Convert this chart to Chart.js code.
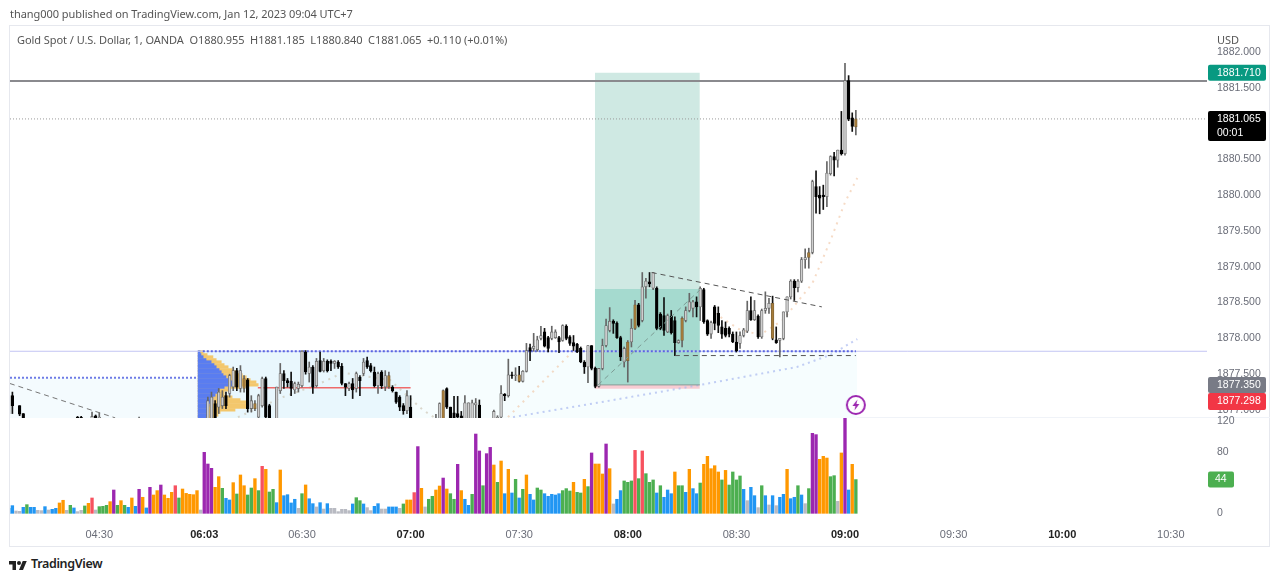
<!DOCTYPE html>
<html>
<head>
<meta charset="utf-8">
<title>XAUUSD</title>
<script src="https://cdn.jsdelivr.net/npm/chart.js@4/dist/chart.umd.js"></script>
<style>
  html, body { margin: 0; padding: 0; background: #fff; width: 1280px; height: 581px; overflow: hidden; }
  body { position: relative; font-family: "Noto Sans", sans-serif; color: #555; }
  canvas { position: absolute; left: 0; filter: blur(0.3px); }
  #priceChart { top: 0; }
  #volumeChart { top: 410px; }
  .frame { position: absolute; left: 9px; top: 25px; width: 1261px; height: 522px; border: 1px solid #e6e8ee; box-sizing: border-box; }
  .sep { position: absolute; left: 10px; top: 417px; width: 1260px; height: 1px; background: #f0f3f8; }
  .txt { position: absolute; white-space: pre; font-size: 11px; line-height: 14px; }
  #published { left: 10px; top: 7px; letter-spacing: -0.05px; }
  #legend { left: 17px; top: 33px; letter-spacing: -0.06px; }
  #currency { left: 1217px; top: 33px; }
  #brand { left: 31px; top: 556px; font-size: 12.5px; line-height: 16px; font-weight: 600; color: #222; letter-spacing: -0.35px; }
  #logo { position: absolute; left: 9px; top: 559px; }
</style>
</head>
<body>
<div class="frame"></div>
<div class="sep"></div>
<canvas id="priceChart" width="1280" height="424"></canvas>
<canvas id="volumeChart" width="1280" height="137"></canvas>
<div class="txt" id="published">thang000 published on TradingView.com, Jan 12, 2023 09:04 UTC+7</div>
<div class="txt" id="legend">Gold Spot / U.S. Dollar, 1, OANDA  O1880.955  H1881.185  L1880.840  C1881.065  +0.110 (+0.01%)</div>
<div class="txt" id="currency">USD</div>
<svg id="logo" width="18" height="11" viewBox="0 0 36 22"><path fill="#222" d="M14 22H7V11H0V4h14v18zM28 22h-8l7.5-18h8L28 22z"/><circle fill="#222" cx="20" cy="8" r="4"/></svg>
<div class="txt" id="brand">TradingView</div>

<script>
// time axis (bar index -> label)
const timeTickBars = [24, 53, 80, 110, 140, 170, 200, 230, 260, 290, 320];
const timeTickLabels = ['04:30', '06:03', '06:30', '07:00', '07:30', '08:00', '08:30', '09:00', '09:30', '10:00', '10:30'];
const boldTimes = ['06:03', '07:00', '08:00', '09:00', '10:00'];

const priceTicks = [1877, 1877.5, 1878, 1878.5, 1879, 1879.5, 1880, 1880.5, 1881, 1881.5, 1882];
const volumeTicks = [0, 80, 120];

// volume, first value is bar -1
const volumes = [
  6.5, 10, 3, 2.6, 7.8, 11.3, 7.8, 7.8, 3.9, 3.5,
  8.7, 4.3, 5.2, 6.5, 13.5, 17, 3.9, 10.4, 7, 2.2,
  3.9, 9.6, 13, 20, 4.3, 8.7, 9.1, 10.4, 15.2, 30.4,
  10.4, 16.5, 10.4, 7.8, 20, 9.1, 31.3, 20.9, 7, 33.9,
  23.9, 29.6, 36.9, 23.9, 19.6, 27.4, 36, 20, 31.7, 26,
  24.8, 24.3, 29.6, 4.3, 79.5, 64.3, 58.7, 33.9, 47.8, 32.6,
  19.6, 17.4, 40, 25.2, 50, 36, 23.9, 33, 45.2, 29.6,
  61.3, 57.4, 27.8, 31.3, 13.9, 56.5, 23, 24.3, 13.5, 18.3,
  6.5, 25.6, 37, 19, 12.6, 8.3, 13.9, 5.6, 12.6, 6.5,
  6.5, 2.2, 5.2, 5.2, 3.5, 12.2, 20.4, 16.5, 12.2, 7.4,
  3.5, 9.1, 12.6, 5.6, 5.6, 8.3, 8.3, 8.3, 6.5, 12.2,
  17.4, 17.4, 27, 87, 32.6, 8.3, 18.3, 22.2, 30.4, 35.6,
  46, 31.7, 25.6, 18.3, 63.9, 29.6, 18.3, 10.4, 24.8, 103.4,
  81.3, 36, 77.8, 86, 63, 40.4, 68.2, 25.6, 57.4, 26.5,
  44.3, 20, 31.3, 50, 24.8, 17.4, 33, 30.4, 25.6, 22.2,
  24.8, 23.9, 25.6, 29.6, 32.2, 29.1, 40.4, 27.4, 26.5, 44.3,
  34.8, 78.7, 64.3, 64.3, 51.3, 90.4, 58.2, 12.2, 18.3, 29.6,
  42.2, 40.4, 42.2, 82.1, 45.2, 81.3, 51.7, 40.4, 43.5, 26.5,
  36, 20.9, 30.4, 25.6, 53.9, 36, 36, 27.4, 57.4, 32.2,
  25.6, 39.5, 63.9, 74.3, 58.2, 62.1, 53.9, 43.5, 56, 36.9,
  53.9, 43.5, 48.7, 31.3, 16.5, 33.9, 23, 7.4, 36, 23,
  10.9, 23, 10, 20.9, 24.8, 57.4, 19.1, 20.9, 36, 23.9,
  12.6, 32.2, 104.3, 102.6, 70.4, 74.3, 72.1, 47.8, 49.1, 15.6,
  78.7, 125, 30.4, 63.9, 44
];
// b blue, g green, o orange, r red, p purple, s silver
const volumeKinds = (
  'bbssbgbbss' + 'bsbboosgbs' + 'sgorsgggop' + 'gogbobpobp' + 'oopooorgoo' +
  'ooospppoog' + 'bbogooggog' + 'roggbobbbb' + 'sgobbsbsbs' + 'sssssbggbs' +
  'sbbssbbbsg' + 'oorposggoo' + 'poggpobbgp' + 'pgppogobob' + 'gbgobbggbb' +
  'bbbgggoggo' + 'gpoooposbb' + 'gggrgrgggb' + 'gbbboggbob' + 'bgooooogog' +
  'gggbsbbsgb' + 'sbsbbobbgb' + 'sgppoooggs' + 'opbog'
).split('');

// candles that show inside the pane; the rest sit below the visible range
const range = (a, b) => Array.from({ length: b - a + 1 }, (_, i) => a + i);
const candleBars = [-1, 0, 2, 3, 18, 19, 22, 23, 24, 35, ...range(54, 71), ...range(73, 110), ...range(117, 129), ...range(133, 233)];
const brownBars = [64, 67, 104, 119, 140, 170, 172, 185, 210, 220, 233];

const opens = [
  1876.95, 1877.20, 1877.06, 1876.95, 1876.90, 1876.90, 1876.88, 1876.92, 1876.86, 1876.85,
  1876.85, 1876.88, 1877.09, 1877.04, 1877.06, 1877.20, 1877.23, 1877.32, 1877.55, 1877.30, 1877.30, 1877.42, 1877.02, 1877.02, 1876.90, 1877.06, 1877.44, 1877.06,
  1876.88, 1877.27, 1877.51, 1877.41, 1877.40, 1877.28, 1877.30, 1877.34, 1877.81, 1877.51, 1877.60, 1877.34, 1877.69, 1877.55, 1877.68, 1877.68, 1877.65, 1877.67, 1877.61,
  1877.37, 1877.30, 1877.37, 1877.30, 1877.46, 1877.51, 1877.69, 1877.62, 1877.53, 1877.34, 1877.53, 1877.32, 1877.32, 1877.32, 1877.25, 1877.18, 1877.06, 1876.99, 1877.04,
  1876.85, 1876.85, 1876.85, 1877.30, 1877.04, 1876.96, 1876.95, 1876.92, 1876.85, 1876.85, 1876.85, 1877.07, 1877.07,
  1876.85, 1876.88, 1876.90, 1877.22, 1877.20, 1877.49, 1877.48, 1877.49, 1877.40, 1877.54,
  1877.87, 1877.86, 1877.84, 1878.00, 1878.09, 1878.01, 1878.00, 1878.01, 1878.01, 1877.97,
  1878.17, 1878.02, 1877.94, 1877.92, 1877.86, 1877.67, 1877.60, 1877.90, 1877.58, 1877.33,
  1877.58, 1877.90, 1878.11, 1878.24, 1878.21, 1878.01, 1877.67, 1877.69, 1877.95, 1878.14,
  1878.47, 1878.25, 1878.72, 1878.79, 1878.70, 1878.70, 1878.34, 1878.32, 1878.09, 1878.31,
  1878.25, 1877.94, 1877.97, 1878.25, 1878.39, 1878.42, 1878.51, 1878.44, 1878.68, 1878.25,
  1878.06, 1878.44, 1878.35, 1878.16, 1878.14, 1878.14, 1878.06, 1877.95, 1877.93, 1878.04,
  1878.10, 1878.39, 1878.26, 1878.31, 1878.02, 1878.39, 1878.42, 1878.49, 1877.98, 1877.97,
  1878.00, 1878.37, 1878.58, 1878.80, 1878.71, 1878.80, 1879.10, 1879.13, 1879.20, 1880.12,
  1880.00, 1880.00, 1879.98, 1880.30, 1880.54, 1880.49, 1880.63, 1880.58, 1881.60, 1881.08, 1880.955
];
const highs = [
  1877.24, 1877.25, 1877.06, 1876.95, 1876.91, 1876.91, 1876.97, 1876.93, 1876.96, 1876.90,
  1877.18, 1877.25, 1877.13, 1877.30, 1877.27, 1877.25, 1877.50, 1877.60, 1877.58, 1877.62, 1877.48, 1877.44, 1877.20, 1877.13, 1877.22, 1877.46, 1877.46, 1877.08,
  1877.32, 1877.65, 1877.55, 1877.44, 1877.53, 1877.39, 1877.39, 1877.83, 1877.83, 1877.67, 1877.62, 1877.72, 1877.81, 1877.72, 1877.70, 1877.70, 1877.69, 1877.69, 1877.65,
  1877.37, 1877.39, 1877.44, 1877.53, 1877.48, 1877.72, 1877.74, 1877.65, 1877.60, 1877.53, 1877.55, 1877.55, 1877.53, 1877.34, 1877.25, 1877.20, 1877.09, 1877.27, 1877.20,
  1876.94, 1877.10, 1877.28, 1877.31, 1877.04, 1877.19, 1877.19, 1876.98, 1877.20, 1877.10, 1877.14, 1877.16, 1877.14,
  1877.00, 1876.92, 1877.34, 1877.23, 1877.71, 1877.53, 1877.59, 1877.61, 1877.55, 1877.93,
  1877.92, 1878.07, 1878.03, 1878.17, 1878.14, 1878.03, 1878.17, 1878.12, 1878.03, 1878.19,
  1878.19, 1878.04, 1878.04, 1877.93, 1877.88, 1877.69, 1877.90, 1877.90, 1877.60, 1877.58,
  1877.99, 1878.27, 1878.43, 1878.26, 1878.23, 1878.03, 1877.88, 1877.97, 1878.27, 1878.53,
  1878.49, 1878.92, 1878.84, 1878.92, 1878.92, 1878.72, 1878.36, 1878.57, 1878.34, 1878.39,
  1878.30, 1877.98, 1878.30, 1878.44, 1878.63, 1878.53, 1878.58, 1878.72, 1878.70, 1878.26,
  1878.24, 1878.46, 1878.44, 1878.25, 1878.23, 1878.16, 1878.09, 1878.09, 1878.09, 1878.14,
  1878.52, 1878.58, 1878.53, 1878.33, 1878.41, 1878.65, 1878.56, 1878.59, 1878.16, 1878.00,
  1878.37, 1878.58, 1878.82, 1878.82, 1878.82, 1879.13, 1879.25, 1879.26, 1880.21, 1880.34,
  1880.12, 1880.14, 1880.47, 1880.55, 1880.60, 1880.63, 1881.17, 1881.84, 1881.67, 1881.15, 1881.185
];
const lows = [
  1876.93, 1876.95, 1876.92, 1876.85, 1876.85, 1876.85, 1876.85, 1876.85, 1876.85, 1876.85,
  1876.85, 1876.85, 1876.85, 1876.95, 1877.02, 1877.02, 1877.18, 1877.27, 1877.27, 1877.25, 1877.25, 1876.97, 1876.97, 1876.99, 1876.85, 1877.04, 1876.85, 1876.85,
  1876.85, 1877.23, 1877.30, 1877.32, 1877.20, 1877.23, 1877.25, 1877.32, 1877.50, 1877.39, 1877.23, 1877.32, 1877.53, 1877.53, 1877.53, 1877.55, 1877.58, 1877.58, 1877.35,
  1877.20, 1877.27, 1877.16, 1877.25, 1877.20, 1877.48, 1877.58, 1877.53, 1877.32, 1877.23, 1877.30, 1877.27, 1877.30, 1877.25, 1877.09, 1876.99, 1876.94, 1876.95, 1876.85,
  1876.85, 1876.85, 1876.85, 1877.02, 1876.85, 1876.85, 1876.88, 1876.85, 1876.85, 1876.85, 1876.85, 1876.85, 1876.85,
  1876.85, 1876.85, 1876.88, 1877.13, 1877.18, 1877.44, 1877.41, 1877.39, 1877.39, 1877.53,
  1877.69, 1877.82, 1877.82, 1877.98, 1877.88, 1877.81, 1877.98, 1878.00, 1877.80, 1877.96,
  1877.98, 1877.90, 1877.83, 1877.80, 1877.66, 1877.51, 1877.38, 1877.56, 1877.31, 1877.32,
  1877.56, 1877.88, 1878.09, 1878.07, 1878.00, 1877.69, 1877.60, 1877.39, 1877.88, 1878.12,
  1878.16, 1878.23, 1878.56, 1878.72, 1878.68, 1878.12, 1878.12, 1878.04, 1878.08, 1878.06,
  1877.76, 1877.93, 1877.88, 1878.23, 1878.37, 1878.30, 1878.30, 1878.25, 1878.21, 1878.04,
  1878.00, 1878.12, 1878.08, 1878.00, 1878.02, 1878.02, 1877.94, 1877.81, 1877.86, 1878.02,
  1878.08, 1878.25, 1878.25, 1878.00, 1878.00, 1878.35, 1878.35, 1877.98, 1877.93, 1877.74,
  1877.98, 1878.30, 1878.55, 1878.53, 1878.65, 1878.78, 1878.98, 1878.98, 1879.18, 1879.75,
  1879.74, 1879.80, 1879.84, 1880.28, 1880.27, 1880.39, 1880.56, 1880.56, 1881.04, 1880.89, 1880.84
];
const closes = [
  1877.20, 1877.06, 1876.94, 1876.88, 1876.88, 1876.88, 1876.91, 1876.89, 1876.90, 1876.86,
  1877.13, 1877.18, 1876.88, 1877.25, 1877.18, 1877.06, 1877.48, 1877.55, 1877.32, 1877.55, 1877.44, 1877.02, 1877.13, 1877.09, 1877.20, 1877.44, 1876.90, 1876.88,
  1877.32, 1877.51, 1877.41, 1877.38, 1877.30, 1877.37, 1877.36, 1877.82, 1877.53, 1877.60, 1877.32, 1877.68, 1877.54, 1877.68, 1877.55, 1877.65, 1877.68, 1877.60, 1877.37,
  1877.32, 1877.37, 1877.28, 1877.51, 1877.41, 1877.67, 1877.60, 1877.55, 1877.34, 1877.51, 1877.34, 1877.48, 1877.48, 1877.27, 1877.11, 1877.04, 1876.99, 1877.20, 1876.86,
  1876.88, 1877.09, 1877.27, 1877.04, 1876.85, 1876.88, 1876.90, 1876.85, 1877.10, 1877.10, 1877.10, 1877.10, 1876.85,
  1876.98, 1876.90, 1877.23, 1877.20, 1877.49, 1877.48, 1877.49, 1877.40, 1877.54, 1877.83,
  1877.82, 1877.89, 1877.98, 1878.04, 1877.89, 1877.86, 1878.09, 1878.09, 1877.95, 1878.18,
  1878.00, 1877.93, 1877.89, 1877.81, 1877.67, 1877.60, 1877.90, 1877.58, 1877.33, 1877.58,
  1877.90, 1878.18, 1878.24, 1878.21, 1878.01, 1877.74, 1877.86, 1877.95, 1878.14, 1878.47,
  1878.18, 1878.72, 1878.80, 1878.76, 1878.92, 1878.14, 1878.14, 1878.11, 1878.32, 1878.08,
  1877.94, 1877.97, 1878.28, 1878.39, 1878.51, 1878.51, 1878.44, 1878.70, 1878.23, 1878.06,
  1878.22, 1878.21, 1878.18, 1878.06, 1878.04, 1878.06, 1877.95, 1877.83, 1878.04, 1878.12,
  1878.39, 1878.26, 1878.39, 1878.02, 1878.39, 1878.42, 1878.49, 1878.00, 1877.94, 1878.00,
  1878.37, 1878.58, 1878.80, 1878.71, 1878.80, 1879.10, 1879.13, 1879.20, 1880.19, 1879.98,
  1879.96, 1879.98, 1880.31, 1880.54, 1880.49, 1880.63, 1880.58, 1881.60, 1881.06, 1880.96, 1881.065
];

// volume profile rows, widths are in bars from the session start
const profilePrices = [1877.81, 1877.77, 1877.74, 1877.70, 1877.67, 1877.63, 1877.60, 1877.56, 1877.53, 1877.49, 1877.46, 1877.42, 1877.39, 1877.35, 1877.32, 1877.28, 1877.25, 1877.21, 1877.18, 1877.14, 1877.11, 1877.07, 1877.04, 1877.00, 1876.97, 1876.93, 1876.90];
const profileBlue = [0.55, 0.8, 1.4, 2.2, 3.6, 4.4, 5, 5.8, 6.4, 6.9, 7.7, 8.6, 9.4, 9.4, 7.2, 5.8, 5.2, 4.7, 4.1, 4.1, 4.1, 3, 2.5, 2.5, 2.5, 2.5, 2.2];
const profileTotal = [1.4, 2.5, 4.1, 5, 6.4, 7.2, 8.3, 9.4, 11, 12.2, 13.3, 14.4, 16, 16.6, 11.6, 8.6, 7.2, 7.2, 9.4, 11.6, 13.5, 14, 13.5, 10.2, 6.1, 5.5, 4.4];
const sessionStart = 51.3;

// drawings, as [bar, price] pairs
const trendA = [[-0.7, 1877.37], [28.4, 1876.89]];
const trendB = [[176.6, 1878.92], [223.6, 1878.44]];
const trendC = [[161.8, 1877.35], [190, 1878.68]];
const flatDash = [[183, 1877.76], [233, 1877.76]];
const vwapA = [[62.3, 1876.90], [74.7, 1877.18], [84.1, 1877.35], [91.3, 1877.52], [104.3, 1877.42], [113.4, 1877.00], [116.7, 1876.89]];
const vwapB = [[136.9, 1876.90], [156, 1877.88]];
const vwapC = [[194, 1878.35], [201, 1878.12], [206.6, 1878.05], [212.9, 1878.26], [221, 1878.77], [226, 1879.37], [230, 1879.90], [233.4, 1880.24]];
const vwapSlow = [[138.3, 1876.90], [161.5, 1877.10], [190, 1877.35], [216.7, 1877.60], [226, 1877.77], [233.4, 1877.99]];

const firstBar = -0.66, lastBar = 330;
const priceMin = 1876.888, priceMax = 1882.349;
const sessionEnd = 110, drawEnd = 233.4;
const entryPrice = 1877.35, stopPrice = 1877.298, targetPrice = 1881.71, lastPrice = 1881.065;
const boxLeft = 160.9, boxRight = 189.9, fillPrice = 1878.69;
const highLine = 1881.595, blueLevel = 1877.82, prevLevel = 1877.45, pocPrice = 1877.31, pocStart = 67.8;

const volumeColors = { b: '#2196f3', g: '#4caf50', o: '#ff9800', r: '#f7525f', p: '#9c27b0', s: '#b8bac2' };
const AXIS_FONT = '"Liberation Sans", sans-serif';
const AXIS_COLOR = '#6a6d78';

const pts = (pairs) => pairs.map(p => ({ x: p[0], y: p[1] }));

function lineSet(pairs, color, width, dash, order) {
  return {
    type: 'line', data: pts(pairs), borderColor: color, borderWidth: width,
    borderDash: dash, pointRadius: 0, tension: 0, fill: false, order
  };
}
function zoneSet(x0, x1, top, bottom, color, order) {
  return {
    type: 'line', data: pts([[x0, top], [x1, top]]), borderWidth: 0, backgroundColor: color,
    pointRadius: 0, fill: { value: bottom }, order
  };
}

// lightning marker as point style
const bolt = document.createElement('canvas');
bolt.width = 22; bolt.height = 22;
(() => {
  const c = bolt.getContext('2d');
  c.beginPath(); c.arc(11, 11, 9, 0, Math.PI * 2);
  c.fillStyle = '#fff'; c.fill();
  c.lineWidth = 2; c.strokeStyle = '#9c27b0'; c.stroke();
  c.beginPath();
  c.moveTo(12.5, 5.5); c.lineTo(7.5, 12); c.lineTo(10.5, 12); c.lineTo(9.5, 16.5); c.lineTo(14.5, 10); c.lineTo(11.5, 10); c.closePath();
  c.fillStyle = '#9c27b0'; c.fill();
})();

const isBrown = (k) => brownBars.includes(k);
const bodyFill = (i) => {
  if (isBrown(candleBars[i])) return '#a67c3a';
  return closes[i] >= opens[i] ? '#cfcfcf' : '#000';
};
const bodyEdge = (i) => {
  if (isBrown(candleBars[i])) return '#7d6238';
  return closes[i] >= opens[i] ? '#6a6a6a' : '#000';
};

// price side tags
const tagPlugin = {
  id: 'tags',
  afterDraw(chart) {
    const { ctx, scales: { y } } = chart;
    const tag = (top, h, color, lines) => {
      ctx.fillStyle = color;
      ctx.beginPath();
      ctx.roundRect(1208, top, 58, h, 2);
      ctx.fill();
      ctx.fillStyle = '#fff';
      ctx.font = '10.5px ' + AXIS_FONT;
      ctx.textBaseline = 'middle';
      ctx.textAlign = 'left';
      lines.forEach((t, i) => ctx.fillText(t, 1217, top + 8 + i * 14));
    };
    tag(y.getPixelForValue(targetPrice) - 8, 16, '#089981', [targetPrice.toFixed(3)]);
    tag(y.getPixelForValue(lastPrice) - 8, 30, '#000', [lastPrice.toFixed(3), '00:01']);
    const entryTop = y.getPixelForValue(entryPrice) - 8;
    tag(entryTop, 16, '#787b86', [entryPrice.toFixed(3)]);
    tag(entryTop + 16, 17, '#f23645', [stopPrice.toFixed(3)]);
  }
};

const volumeTagPlugin = {
  id: 'volumeTag',
  afterDraw(chart) {
    const { ctx, scales: { y } } = chart;
    const v = volumes[volumes.length - 1];
    const top = y.getPixelForValue(v) - 8;
    ctx.fillStyle = '#4caf50';
    ctx.beginPath();
    ctx.roundRect(1208, top, 26, 16, 2);
    ctx.fill();
    ctx.fillStyle = '#fff';
    ctx.font = '10.5px ' + AXIS_FONT;
    ctx.textBaseline = 'middle';
    ctx.textAlign = 'left';
    ctx.fillText(String(v), 1215, top + 8);
  }
};

new Chart(document.getElementById('priceChart'), {
  data: {
    datasets: [
      // background zones
      zoneSet(firstBar, sessionStart, prevLevel, priceMin, '#f4fbfe', 30),
      zoneSet(sessionStart, sessionEnd, blueLevel, priceMin, '#e9f7fd', 30),
      zoneSet(sessionEnd, drawEnd, blueLevel, priceMin, '#f6fdfe', 30),
      zoneSet(boxLeft, boxRight, targetPrice, entryPrice, '#cfe9e3', 28),
      zoneSet(boxLeft, boxRight, fillPrice, entryPrice, '#a5dacf', 27),
      zoneSet(boxLeft, boxRight, entryPrice, stopPrice, '#f8ccd3', 26),
      // volume profile
      {
        type: 'bar', indexAxis: 'y', grouped: false, barThickness: 2.6, order: 24, backgroundColor: '#5a7df0',
        data: profilePrices.map((p, i) => ({ y: p, x: [sessionStart, sessionStart + profileBlue[i]] }))
      },
      {
        type: 'bar', indexAxis: 'y', grouped: false, barThickness: 2.6, order: 25, backgroundColor: '#f3c76c',
        data: profilePrices.map((p, i) => ({ y: p, x: [sessionStart, sessionStart + profileTotal[i]] }))
      },
      // levels and moving lines
      lineSet(vwapA, 'rgba(200,190,170,0.6)', 2, [2, 5], 20),
      lineSet(vwapB, 'rgba(240,195,160,0.6)', 2, [2, 5], 20),
      lineSet(vwapC, 'rgba(240,195,160,0.6)', 2, [2, 5], 20),
      lineSet(vwapSlow, 'rgba(170,185,240,0.7)', 2, [2, 4], 20),
      lineSet([[firstBar, blueLevel], [lastBar, blueLevel]], '#c3c5f3', 1, [], 18),
      lineSet([[sessionStart + 1.3, blueLevel], [233, blueLevel]], '#5a66e0', 2, [2, 2], 17),
      lineSet([[firstBar, prevLevel], [sessionStart, prevLevel]], '#6f7ce6', 2, [2, 2], 17),
      lineSet([[pocStart, pocPrice], [sessionEnd, pocPrice]], '#ee6a6a', 1.5, [], 16),
      lineSet([[boxLeft, entryPrice], [boxRight, entryPrice]], '#8a9a96', 1, [], 16),
      lineSet([[firstBar, highLine], [lastBar, highLine]], '#8a8a8e', 2, [], 15),
      lineSet([[firstBar, lastPrice], [lastBar, lastPrice]], '#9a9a9a', 1, [1, 2], 15),
      // candles
      {
        type: 'bar', grouped: false, barThickness: 1, order: 4,
        data: candleBars.map((k, i) => ({ x: k, y: [lows[i], highs[i]] })),
        backgroundColor: candleBars.map((k, i) => closes[i] >= opens[i] ? '#666' : '#111')
      },
      {
        type: 'bar', grouped: false, barThickness: 2.7, order: 3, borderWidth: 0.8, borderSkipped: false,
        data: candleBars.map((k, i) => ({ x: k, y: [opens[i], closes[i]] })),
        backgroundColor: candleBars.map((k, i) => bodyFill(i)),
        borderColor: candleBars.map((k, i) => bodyEdge(i))
      },
      // drawings
      lineSet(trendA, '#777', 1, [5, 4], 2),
      lineSet(trendB, '#555', 1, [5, 4], 2),
      lineSet(trendC, '#7d9c95', 1, [5, 4], 2),
      lineSet(flatDash, '#555', 1, [5, 4], 2),
      // lightning marker
      {
        type: 'line', showLine: false, order: 1, pointStyle: bolt,
        data: [{ x: 233, y: 1877.07 }]
      }
    ]
  },
  options: {
    responsive: false,
    animation: false,
    devicePixelRatio: 1,
    layout: { padding: { left: 10, top: 27, right: 0, bottom: 6 } },
    plugins: { legend: { display: false }, tooltip: { enabled: false } },
    scales: {
      x: { type: 'linear', display: false, offset: false, min: firstBar, max: lastBar },
      y: {
        type: 'linear', position: 'right', offset: false, min: priceMin, max: priceMax,
        grid: { display: false, drawTicks: false },
        border: { display: false },
        afterBuildTicks: (s) => { s.ticks = priceTicks.map(v => ({ value: v })); },
        afterFit: (s) => { s.width = 73; s.paddingTop = 0; s.paddingBottom = 0; },
        ticks: { padding: 10, color: AXIS_COLOR, font: { family: AXIS_FONT, size: 10.5 }, callback: (v) => v.toFixed(3) }
      }
    }
  },
  plugins: [tagPlugin]
});

const isBoldTick = (c) => !!c.tick && boldTimes.includes(timeTickLabels[timeTickBars.indexOf(c.tick.value)]);

new Chart(document.getElementById('volumeChart'), {
  data: {
    datasets: [{
      type: 'bar', barThickness: 2.7,
      data: volumes.map((v, i) => ({ x: i - 1, y: v })),
      backgroundColor: volumeKinds.map(c => volumeColors[c])
    }]
  },
  options: {
    responsive: false,
    animation: false,
    devicePixelRatio: 1,
    layout: { padding: { left: 10, top: 8, right: 0, bottom: 0 } },
    plugins: { legend: { display: false }, tooltip: { enabled: false } },
    scales: {
      x: {
        type: 'linear', offset: false, min: firstBar, max: lastBar,
        grid: { display: false, drawTicks: false },
        border: { display: false },
        afterBuildTicks: (s) => { s.ticks = timeTickBars.map(v => ({ value: v })); },
        afterFit: (s) => { s.height = 30; s.paddingLeft = 0; s.paddingRight = 0; },
        ticks: {
          autoSkip: false, maxRotation: 0, padding: 11,
          callback: (v) => timeTickLabels[timeTickBars.indexOf(v)],
          color: (c) => isBoldTick(c) ? '#222' : AXIS_COLOR,
          font: (c) => ({ family: AXIS_FONT, size: 11, weight: isBoldTick(c) ? '700' : '400' })
        }
      },
      y: {
        type: 'linear', position: 'right', offset: false, min: -4.8, max: 124.3,
        grid: { display: false, drawTicks: false },
        border: { display: false },
        afterBuildTicks: (s) => { s.ticks = volumeTicks.map(v => ({ value: v })); },
        afterFit: (s) => { s.width = 73; s.paddingTop = 0; s.paddingBottom = 0; },
        ticks: { padding: 10, color: AXIS_COLOR, font: { family: AXIS_FONT, size: 10.5 } }
      }
    }
  },
  plugins: [volumeTagPlugin]
});
</script>
</body>
</html>
